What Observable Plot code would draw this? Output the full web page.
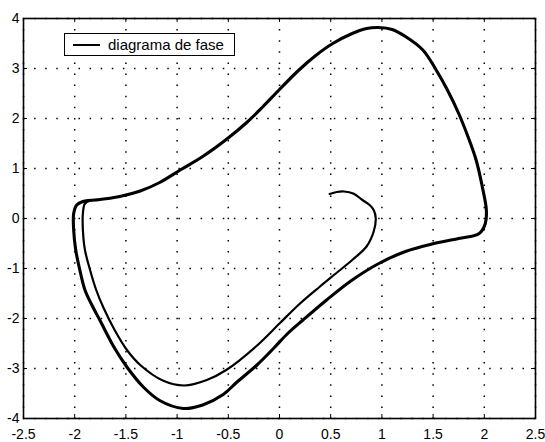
<!DOCTYPE html>
<html>
<head>
<meta charset="utf-8">
<script src="https://cdn.jsdelivr.net/npm/d3@7"></script>
<script src="https://cdn.jsdelivr.net/npm/@observablehq/plot@0.6"></script>
<style>
  html, body { margin: 0; padding: 0; background: #fff; }
  #wrap { position: relative; width: 545px; height: 442px; overflow: hidden; }
  #legend {
    position: absolute; left: 64px; top: 33px; width: 169px; height: 21px;
    border: 1.4px solid #000; background: #fff;
    font: 15px "Liberation Sans", Arial, sans-serif; color: #000;
    display: flex; align-items: center; box-sizing: content-box;
  }
  #legend .swatch { width: 27px; height: 0; border-top: 2.6px solid #000; margin-left: 8px; margin-right: 8px; }
</style>
</head>
<body>
<div id="wrap"></div>
<script>
// Van der Pol phase portrait: transient from (0.5, 0.5) spiralling out to the limit cycle
const transientX = [0.49, 0.56, 0.63, 0.72, 0.81, 0.88, 0.92, 0.94, 0.92, 0.85, 0.71, 0.55, 0.39, 0.19, 0.00, -0.23, -0.52, -0.71, -0.93, -1.14, -1.36, -1.49, -1.61, -1.72, -1.79, -1.85, -1.90, -1.92, -1.92, -1.90, -1.85, -1.79];
const transientY = [0.49, 0.53, 0.54, 0.50, 0.37, 0.27, 0.17, 0.00, -0.26, -0.56, -0.83, -1.10, -1.37, -1.72, -2.10, -2.56, -3.03, -3.23, -3.34, -3.24, -2.93, -2.63, -2.23, -1.78, -1.43, -1.03, -0.63, -0.23, 0.10, 0.30, 0.36, 0.38];

const cycleX = [-1.79, -1.56, -1.36, -1.17, -0.97, -0.75, -0.52, -0.32, -0.16, 0.00, 0.19, 0.36, 0.52, 0.71, 0.85, 0.97, 1.10, 1.23, 1.40, 1.53, 1.64, 1.75, 1.84, 1.92, 1.98, 2.02, 2.01, 1.95, 1.75, 1.49, 1.23, 0.97, 0.71, 0.46, 0.23, 0.08, -0.05, -0.22, -0.42, -0.55, -0.75, -0.94, -1.17, -1.33, -1.49, -1.62, -1.75, -1.83, -1.90, -1.95, -1.99, -2.01, -2.01, -1.98, -1.92, -1.79];
const cycleY = [0.37, 0.44, 0.55, 0.72, 0.97, 1.24, 1.58, 1.92, 2.24, 2.58, 2.97, 3.27, 3.50, 3.70, 3.80, 3.82, 3.78, 3.64, 3.37, 2.97, 2.57, 2.10, 1.64, 1.17, 0.64, 0.17, -0.10, -0.30, -0.40, -0.51, -0.66, -0.90, -1.23, -1.63, -2.03, -2.30, -2.58, -2.93, -3.28, -3.52, -3.73, -3.80, -3.64, -3.37, -2.97, -2.56, -2.05, -1.74, -1.43, -1.03, -0.63, -0.23, 0.10, 0.27, 0.34, 0.37];

const xTicks = [-2.5, -2, -1.5, -1, -0.5, 0, 0.5, 1, 1.5, 2, 2.5];
const yTicks = [-4, -3, -2, -1, 0, 1, 2, 3, 4];
const legendLabel = "diagrama de fase";

const transient = transientX.map((x, i) => ({x, y: transientY[i]}));
const cycle = cycleX.map((x, i) => ({x, y: cycleY[i]}));

const W = 545, H = 442;
const mL = 23, mR = 10, mT = 18, mB = 24;
const innerW = W - mL - mR, innerH = H - mT - mB;
const tick = 4;

const dotted = {stroke: "#000", strokeOpacity: 1, strokeWidth: 1.5, strokeDasharray: "1.5,9.6"};

const chart = Plot.plot({
  width: W,
  height: H,
  marginLeft: mL,
  marginRight: mR,
  marginTop: mT,
  marginBottom: mB,
  style: {fontFamily: "'Liberation Sans', Arial, sans-serif", fontSize: "14px", color: "#000", background: "#fff", overflow: "visible"},
  x: {domain: [-2.5, 2.5], ticks: xTicks, label: null},
  y: {domain: [-4, 4], ticks: yTicks, label: null},
  marks: [
    Plot.gridX(xTicks, dotted),
    Plot.gridY(yTicks, dotted),
    // inward tick marks on all four sides
    Plot.tickX(xTicks, {x: d => d, stroke: "#000", insetTop: innerH - tick}),
    Plot.tickX(xTicks, {x: d => d, stroke: "#000", insetBottom: innerH - tick}),
    Plot.tickY(yTicks, {y: d => d, stroke: "#000", insetRight: innerW - tick}),
    Plot.tickY(yTicks, {y: d => d, stroke: "#000", insetLeft: innerW - tick}),
    Plot.axisX({ticks: xTicks, tickFormat: d => String(d), tickSize: 0, tickPadding: 11, fontSize: 14}),
    Plot.axisY({ticks: yTicks, tickFormat: d => String(d), tickSize: 0, tickPadding: 4, fontSize: 14}),
    Plot.line(transient, {x: "x", y: "y", stroke: "#000", strokeWidth: 2.2, curve: "catmull-rom"}),
    Plot.line(cycle, {x: "x", y: "y", stroke: "#000", strokeWidth: 3.1, curve: "catmull-rom"}),
    Plot.frame({stroke: "#000", strokeWidth: 1.6})
  ]
});

const wrap = document.getElementById("wrap");
wrap.appendChild(chart);

const legend = document.createElement("div");
legend.id = "legend";
legend.innerHTML = `<span class="swatch"></span><span></span>`;
legend.lastChild.textContent = legendLabel;
wrap.appendChild(legend);
</script>
</body>
</html>
